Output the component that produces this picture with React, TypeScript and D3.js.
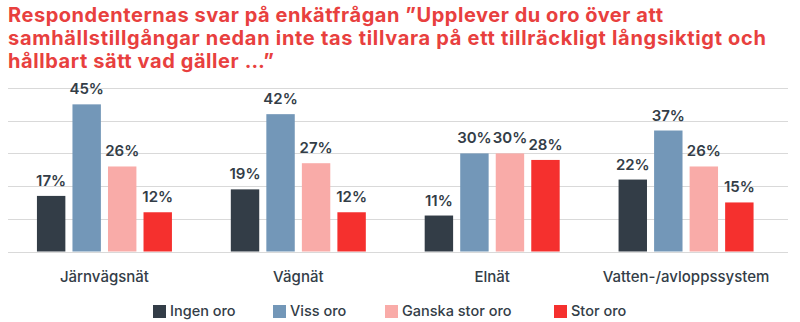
import React from "react";
import * as d3 from "d3";

const categories = ["Järnvägsnät", "Vägnät", "Elnät", "Vatten-/avloppssystem"];
const seriesNames = ["Ingen oro", "Viss oro", "Ganska stor oro", "Stor oro"];
const ingenOro = [17, 19, 11, 22];
const vissOro = [45, 42, 30, 37];
const ganskaStorOro = [26, 27, 30, 26];
const storOro = [12, 12, 28, 15];
const yTicks = [0, 10, 20, 30, 40, 50];
const titleLines = [
  "Respondenternas svar på enkätfrågan \u201dUpplever du oro över att",
  "samhällstillgångar nedan inte tas tillvara på ett tillräckligt långsiktigt och",
  "hållbart sätt vad gäller \u2026\u201d",
];
const titleWidths = [655, 758, 266];

const seriesValues = [ingenOro, vissOro, ganskaStorOro, storOro];
const colors = ["#333d47", "#7397b8", "#f9aba8", "#f5302e"];

const W = 800;
const H = 322;
const FONT = "Inter, 'Noto Sans', sans-serif";

export default function App() {
  const x0 = d3.scaleBand().domain(categories).range([7.5, 783]).paddingInner(0).paddingOuter(0);
  const groupW = 135;
  const x1 = d3
    .scaleBand()
    .domain(seriesNames)
    .range([0, groupW])
    .paddingInner(0.2)
    .paddingOuter(0);
  const y = d3.scaleLinear().domain([0, 50]).range([251.5, 88]);

  const legendX = [153, 273, 385, 554];

  return (
    <svg width={W} height={H} style={{ position: "absolute", left: 0, top: 0, background: "#fff" }}>
      <g fill="#e8403e" fontFamily={FONT} fontWeight={700} fontSize={20}>
        {titleLines.map((t, i) => (
          <text key={i} x={8} y={22 + i * 23} textLength={titleWidths[i]} lengthAdjust="spacing">
            {t}
          </text>
        ))}
      </g>
      <g stroke="#d9d9d9" strokeWidth={1}>
        {yTicks.map((t) => (
          <line key={t} x1={8} x2={788} y1={Math.round(y(t)) + 0.5} y2={Math.round(y(t)) + 0.5} />
        ))}
      </g>
      {categories.map((c, ci) => {
        const gx = (x0(c) as number) + (x0.bandwidth() - groupW) / 2;
        return (
          <g key={c}>
            {seriesNames.map((s, si) => {
              const v = seriesValues[si][ci];
              const bx = gx + (x1(s) as number);
              return (
                <g key={s}>
                  <rect x={bx} y={y(v)} width={x1.bandwidth()} height={y(0) - y(v)} fill={colors[si]} />
                  <text
                    x={bx + x1.bandwidth() / 2}
                    y={y(v) - 10}
                    textAnchor="middle"
                    fontFamily={FONT}
                    fontWeight={600}
                    fontSize={15}
                    fill="#333d47"
                  >
                    {v}%
                  </text>
                </g>
              );
            })}
            <text
              x={(x0(c) as number) + x0.bandwidth() / 2}
              y={282}
              textAnchor="middle"
              fontFamily={FONT}
              fontWeight={500}
              fontSize={15}
              fill="#333d47"
            >
              {c}
            </text>
          </g>
        );
      })}
      {seriesNames.map((s, si) => (
        <g key={s}>
          <rect x={legendX[si]} y={305} width={13} height={13} fill={colors[si]} />
          <text x={legendX[si] + 17} y={316} fontFamily={FONT} fontWeight={500} fontSize={14.5} fill="#333d47">
            {s}
          </text>
        </g>
      ))}
    </svg>
  );
}
